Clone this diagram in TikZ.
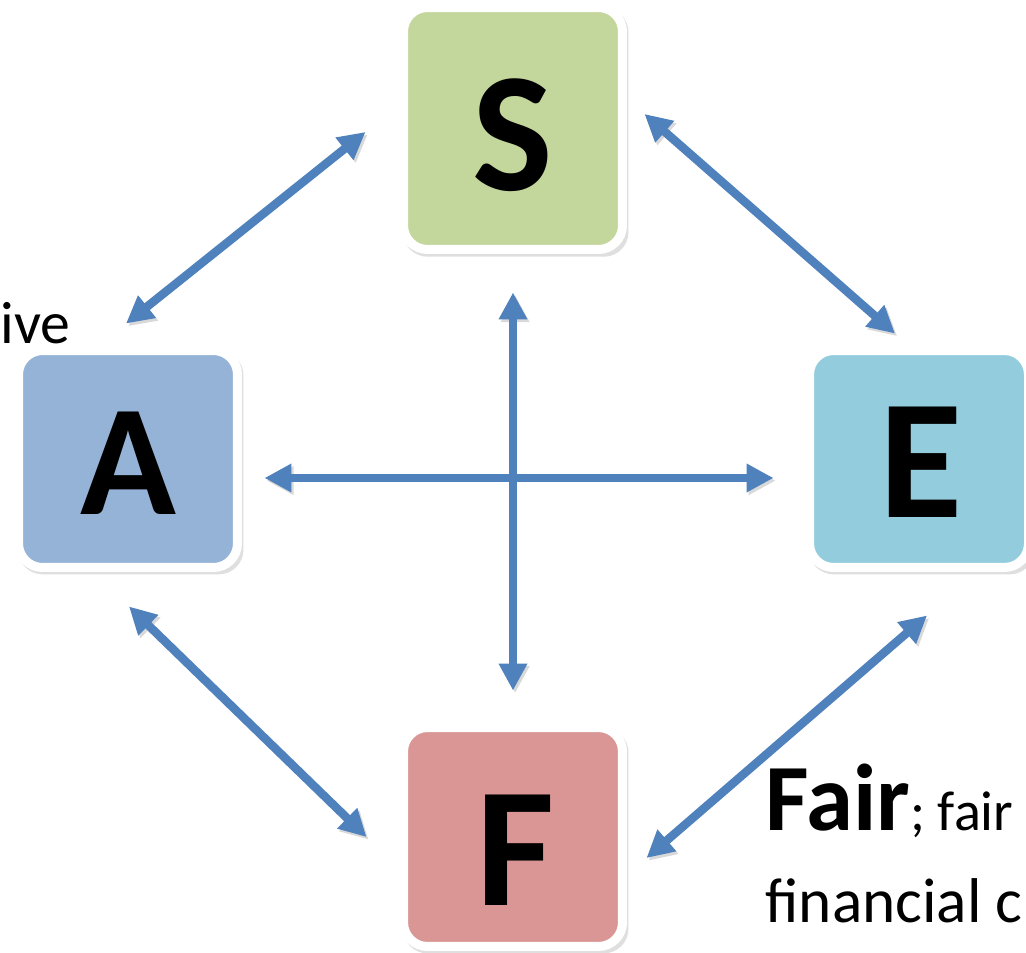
\documentclass[tikz,border=0pt]{standalone}
\usepackage{fontspec}
\setmainfont{Carlito}
\usetikzlibrary{arrows.meta,shadows}
\definecolor{linkblue}{HTML}{4F81BD}
\definecolor{sgreen}{HTML}{C3D69B}
\definecolor{ablue}{HTML}{95B3D7}
\definecolor{eaqua}{HTML}{93CDDD}
\definecolor{fred}{HTML}{D99694}

\begin{document}
\begin{tikzpicture}[x=0.02cm,y=-0.02cm,>={Triangle[length=0.54cm,width=0.54cm]},
  box/.style={draw=white,line width=0.18cm,rounded corners=0.48cm,
    minimum width=4.38cm,minimum height=4.38cm,inner sep=0pt,
    drop shadow={opacity=0.25,shadow scale=1.03,shadow xshift=1.5pt,shadow yshift=-2pt}},
  letter/.style={inner sep=0pt,font=\bfseries\fontsize{97}{97}\selectfont},
  link/.style={<->,line width=0.17cm,draw=linkblue,
    preaction={draw=black!15,transform canvas={xshift=1.2pt,yshift=-1.5pt}}},
  txt/.style={inner sep=0pt,font=\fontsize{34}{40}\selectfont}]
\useasboundingbox[fill=white] (0,0) rectangle (1026,952);
% the four boxes
\node[box,fill=sgreen,minimum height=4.84cm] (S) at (513,128.5) {};
\node[box,fill=ablue,minimum height=4.34cm] (A) at (128,459) {};
\node[box,fill=eaqua,minimum height=4.34cm] (E) at (919,459) {};
\node[box,fill=fred] (F) at (513,837) {};
\node[letter] (Sl) at (513,135) {S};
\node[letter,font=\bfseries\fontsize{90}{90}\selectfont] (Al) at (128,463) {A};
\node[letter] (El) at (921,462) {E};
\node[letter] (Fl) at (516,850) {F};
% arrows
\draw[link] ([shift={(-33.5,3.5)}]S.west) -- ([shift={(-2,-22.5)}]A.north);
\draw[link] ([shift={(17.5,-14.5)}]S.east) -- ([shift={(-24,-12.5)}]E.north);
\draw[link] ([shift={(22.5,19)}]A.east) -- ([shift={(-31.5,19)}]E.west);
\draw[link] ([shift={(0,38.5)}]S.south) -- ([shift={(0,-32.5)}]F.north);
\draw[link] ([shift={(1,34.5)}]A.south) -- ([shift={(-32.5,0)}]F.west);
\draw[link] ([shift={(8,43.5)}]E.south) -- ([shift={(19.5,21)}]F.east);
% texts
\node[txt,anchor=base west] (ive) at (0,343) {ive};
\node[txt,anchor=base west] (fair) at (765,830)
  {{\bfseries\fontsize{54}{60}\selectfont Fair}\fontsize{32}{40}\selectfont; fair};
\node[txt,anchor=base west,font=\fontsize{36}{44}\selectfont] (fin) at (765,922) {financial c};
\end{tikzpicture}
\end{document}
